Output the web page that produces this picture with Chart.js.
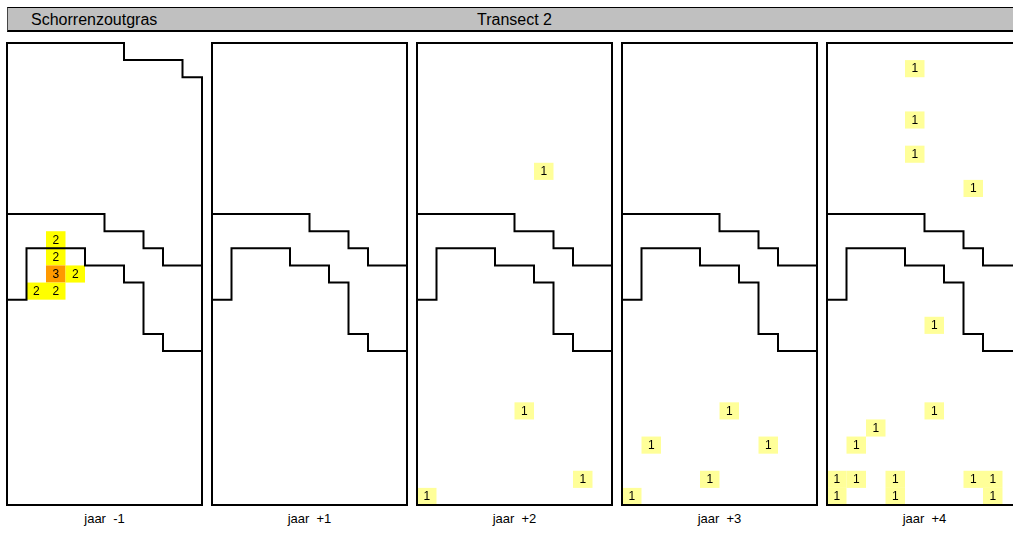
<!DOCTYPE html>
<html>
<head>
<meta charset="utf-8">
<script src="https://cdn.jsdelivr.net/npm/chart.js@4"></script>
<style>
  body { margin: 0; width: 1013px; height: 536px; overflow: hidden; background: #fff;
         font-family: "Liberation Sans", Arial, sans-serif; position: relative; }
  #bar { position: absolute; left: 7px; top: 7px; width: 1020px; height: 22px; background: #c0c0c0;
         border-top: 1px solid #000; border-left: 1px solid #444; border-bottom: 2px solid #000; }
  #bar span { position: absolute; top: 3px; font-size: 16px; color: #000; white-space: pre; }
  canvas { position: absolute; }
  .lbl { position: absolute; top: 511px; width: 195px; text-align: center; font-size: 13px; white-space: pre; }
</style>
</head>
<body>
<div id="bar"><span style="left:23px">Schorrenzoutgras</span><span style="left:469px">Transect 2</span></div>
<div id="panels"></div>
<script>
// ---------- Data (grid: 10 columns x 27 rows, row 0 at the top) ----------
const years = ["jaar  -1", "jaar  +1", "jaar  +2", "jaar  +3", "jaar  +4"];
const nCols = 10;
const nRows = 27;

// zone boundaries [col, row]
const lineA = [[0,10],[5,10],[5,11],[7,11],[7,12],[8,12],[8,13],[10,13]];
const lineB = [[0,15],[1,15],[1,12],[4,12],[4,13],[6,13],[6,14],[7,14],[7,17],[8,17],[8,18],[10,18]];

// panel outlines
const outlineFirst = [[0,0],[6,0],[6,1],[9,1],[9,2],[10,2],[10,27],[0,27],[0,0]];
const outlineFull = [[0,0],[10,0],[10,27],[0,27],[0,0]];

// counts per cell [col, row, value]
const cellsM1 = [[2,11,2],[2,12,2],[2,13,3],[3,13,2],[1,14,2],[2,14,2]];
const cellsP1 = [];
const cellsP2 = [[6,7,1],[5,21,1],[8,25,1],[0,26,1]];
const cellsP3 = [[5,21,1],[1,23,1],[7,23,1],[4,25,1],[0,26,1]];
const cellsP4 = [[4,1,1],[4,4,1],[4,6,1],[7,8,1],[5,16,1],[5,21,1],[2,22,1],[1,23,1],
                 [0,25,1],[1,25,1],[3,25,1],[7,25,1],[8,25,1],[0,26,1],[3,26,1],[8,26,1]];
const cellSets = [cellsM1, cellsP1, cellsP2, cellsP3, cellsP4];

const levelColors = { 1: "#ffff99", 2: "#ffff00", 3: "#ff9900" };

// ---------- Layout ----------
const panelLeft = [7, 212, 417, 622, 827];
const panelTop = 43, panelW = 195, panelH = 462, pad = 4;

const toXY = pts => pts.map(p => ({ x: p[0], y: p[1] }));

// cells drawn under the lines, via the chart scales
const cellPlugin = {
  id: "cells",
  beforeDatasetsDraw(chart, args, opts) {
    const { ctx, scales: { x, y } } = chart;
    ctx.save();
    opts.cells.forEach(([c, r, v]) => {
      const x0 = x.getPixelForValue(c), x1 = x.getPixelForValue(c + 1);
      const y0 = y.getPixelForValue(r), y1 = y.getPixelForValue(r + 1);
      ctx.fillStyle = levelColors[v];
      ctx.fillRect(x0, y0, x1 - x0, y1 - y0);
      ctx.fillStyle = "#000";
      ctx.font = "12px 'Liberation Sans', Arial, sans-serif";
      ctx.textAlign = "center";
      ctx.textBaseline = "middle";
      ctx.fillText(String(v), (x0 + x1) / 2, (y0 + y1) / 2 + 0.5);
    });
    ctx.restore();
  },
};

const host = document.getElementById("panels");
years.forEach((yr, i) => {
  const cv = document.createElement("canvas");
  cv.width = panelW + 2 * pad;
  cv.height = panelH + 2 * pad;
  cv.style.left = panelLeft[i] - pad + "px";
  cv.style.top = panelTop - pad + "px";
  host.appendChild(cv);

  const lbl = document.createElement("div");
  lbl.className = "lbl";
  lbl.style.left = panelLeft[i] + "px";
  lbl.textContent = yr;
  host.appendChild(lbl);

  const lineStyle = {
    showLine: true, pointRadius: 0, borderColor: "#000", borderWidth: 2,
    borderJoinStyle: "miter", borderCapStyle: "square", tension: 0, clip: false,
  };

  new Chart(cv, {
    type: "scatter",
    data: {
      datasets: [
        { ...lineStyle, data: toXY(i === 0 ? outlineFirst : outlineFull) },
        { ...lineStyle, data: toXY(lineA) },
        { ...lineStyle, data: toXY(lineB) },
      ],
    },
    options: {
      responsive: false,
      animation: false,
      layout: { padding: pad },
      plugins: { legend: { display: false }, tooltip: { enabled: false }, cells: { cells: cellSets[i] } },
      scales: {
        x: { type: "linear", min: 0, max: nCols, display: false },
        y: { type: "linear", min: 0, max: nRows, reverse: true, display: false },
      },
    },
    plugins: [cellPlugin],
  });
});
</script>
</body>
</html>
